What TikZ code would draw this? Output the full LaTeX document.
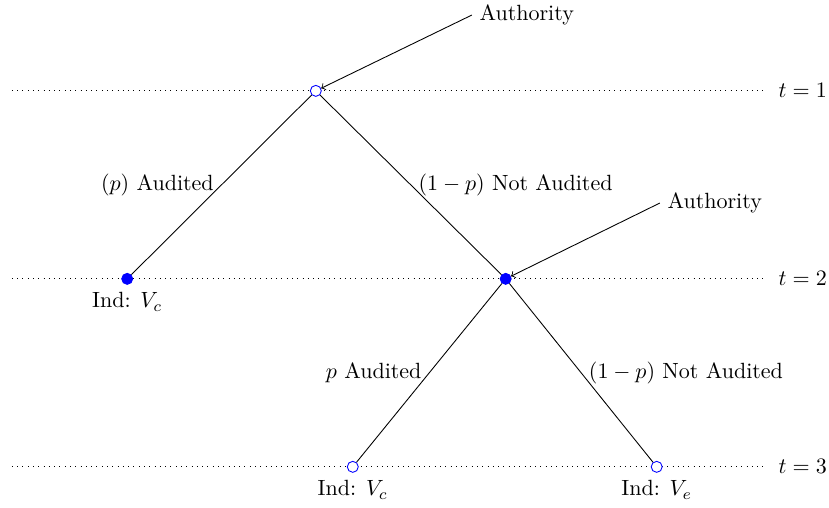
\documentclass[tikz,border=0pt]{standalone}
\usetikzlibrary{positioning}
\tikzset{
  open/.style={circle,draw=blue,fill=white,inner sep=0pt,minimum size=5pt},
  full/.style={circle,draw=blue,fill=blue,inner sep=0pt,minimum size=5pt},
  level/.style={dotted},
  branch/.style={draw=black},
}
\begin{document}
\begin{tikzpicture}
  \useasboundingbox (0,0) rectangle (13.23,-8.106);
  % time levels
  \foreach \t/\y in {1/-1.45,2/-4.45,3/-7.45} {
    \draw[level] (0.19,\y) -- (12.17,\y);
    \node[anchor=west] (t\t) at (12.3,\y) {$t=\t$};
  }
  % tree
  \node[open] (root) at (5.04,-1.45) {};
  \node[full] (aud) at (2.03,-4.45) {};
  \node[full] (nau) at (8.07,-4.45) {};
  \node[open] (aud2) at (5.63,-7.45) {};
  \node[open] (nau2) at (10.48,-7.45) {};
  \draw[branch] (root) -- node[anchor=east] (l1) {$(p)$ Audited} (aud);
  \draw[branch] (root) -- node[anchor=west] (l2) {$(1-p)$ Not Audited} (nau);
  \draw[branch] (nau) -- node[anchor=east] (l3) {$p$ Audited} (aud2);
  \draw[branch] (nau) -- node[anchor=west] (l4) {$(1-p)$ Not Audited} (nau2);
  \node[below=0pt of aud] (p1) {Ind: $V_c$};
  \node[below=0pt of aud2] (p2) {Ind: $V_c$};
  \node[below=0pt of nau2] (p3) {Ind: $V_e$};
  % who moves
  \node[anchor=west] (auth1) at (7.53,-0.24) {Authority};
  \node[anchor=west] (auth2) at (10.53,-3.24) {Authority};
  \draw[->] (auth1.west) -- (root);
  \draw[->] (auth2.west) -- (nau);
\end{tikzpicture}
\end{document}
